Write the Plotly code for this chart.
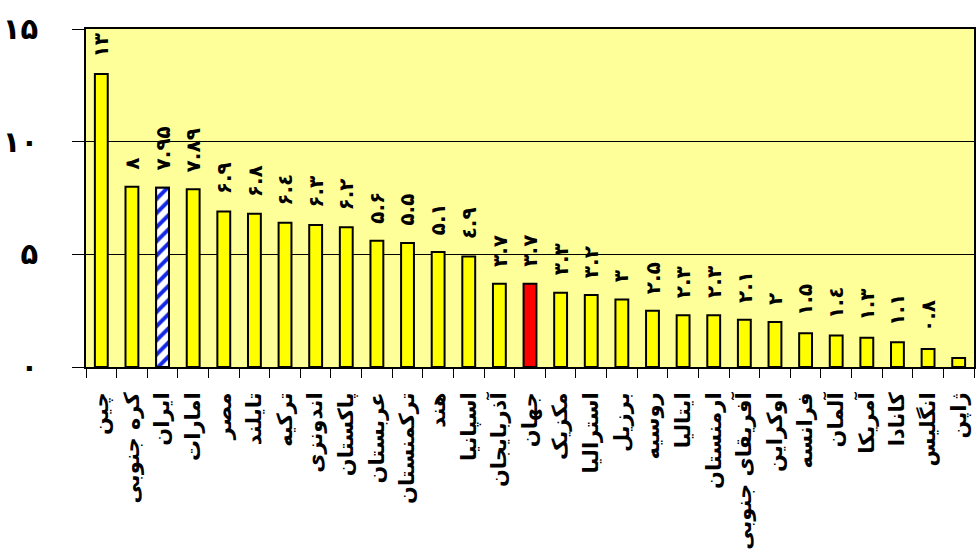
import plotly.graph_objects as go

countries = ["چین", "کره جنوبی", "ایران", "امارات", "مصر", "تایلند", "ترکیه", "اندونزی",
             "پاکستان", "عربستان", "ترکمنستان", "هند", "اسپانیا", "آذربایجان", "جهان",
             "مکزیک", "استرالیا", "برزیل", "روسیه", "ایتالیا", "ارمنستان", "آفریقای جنوبی",
             "اوکراین", "فرانسه", "آلمان", "آمریکا", "کانادا", "انگلیس", "ژاپن"]
values = [13, 8, 7.95, 7.89, 6.9, 6.8, 6.4, 6.3, 6.2, 5.6, 5.5, 5.1, 4.9, 3.7, 3.7,
          3.3, 3.2, 3, 2.5, 2.3, 2.3, 2.1, 2, 1.5, 1.4, 1.3, 1.1, 0.8, 0.4]
labelled = [True] * 28 + [False]
y_ticks = [0, 5, 10, 15]
home = "ایران"
world = "جهان"

digits = str.maketrans("0123456789", "۰۱۲۳٤۵۶۷۸۹")


def fa(v):
    s = ("%g" % v)
    return s.translate(digits)


fills = ["#FF0000" if c == world else "#FFFF00" for c in countries]

fig = go.Figure()
# all countries, plain fills
fig.add_trace(go.Bar(
    x=countries, y=values, width=0.42,
    marker=dict(color=fills, line=dict(color="black", width=2)),
    hoverinfo="x+y",
))
# Iran drawn on top with a blue diagonal hatch
home_val = values[countries.index(home)]
fig.add_trace(go.Bar(
    x=[home], y=[home_val], width=0.42,
    marker=dict(color="white", line=dict(color="black", width=2),
                pattern=dict(shape="/", fgcolor="#1428E6", bgcolor="white",
                             size=10, solidity=0.4, fillmode="replace")),
    hoverinfo="x+y",
))

for c, v, show in zip(countries, values, labelled):
    if not show:
        continue
    fig.add_annotation(x=c, y=v, text=fa(v), textangle=-90, showarrow=False,
                       xanchor="center", yanchor="bottom", yshift=15,
                       font=dict(family="DejaVu Sans", size=20, color="black", weight="bold"))

fig.update_layout(
    width=977, height=553,
    margin=dict(l=86, r=3, t=29, b=186, autoexpand=False),
    paper_bgcolor="white", plot_bgcolor="#FFFF99",
    showlegend=False, barmode="overlay",
    font=dict(family="DejaVu Sans", color="black"),
)
fig.update_xaxes(
    automargin=False,
    showline=True, linecolor="black", linewidth=2, mirror=True,
    ticks="outside", tickson="boundaries", ticklen=9, tickcolor="black", tickwidth=1,
    tickangle=-90, ticklabelstandoff=15,
    tickfont=dict(family="DejaVu Sans", size=21, color="black", weight="bold"),
    showgrid=False,
)
fig.update_yaxes(
    automargin=False,
    range=[0, 15], tickvals=y_ticks, ticktext=[fa(t) for t in y_ticks],
    showline=True, linecolor="black", linewidth=2, mirror=True,
    ticks="outside", ticklen=12, tickcolor="black", tickwidth=1,
    ticklabelstandoff=28,
    tickfont=dict(family="DejaVu Sans", size=29, color="black", weight="bold"),
    showgrid=True, gridcolor="black", gridwidth=1, zeroline=False,
)

fig.write_html("out.html")
